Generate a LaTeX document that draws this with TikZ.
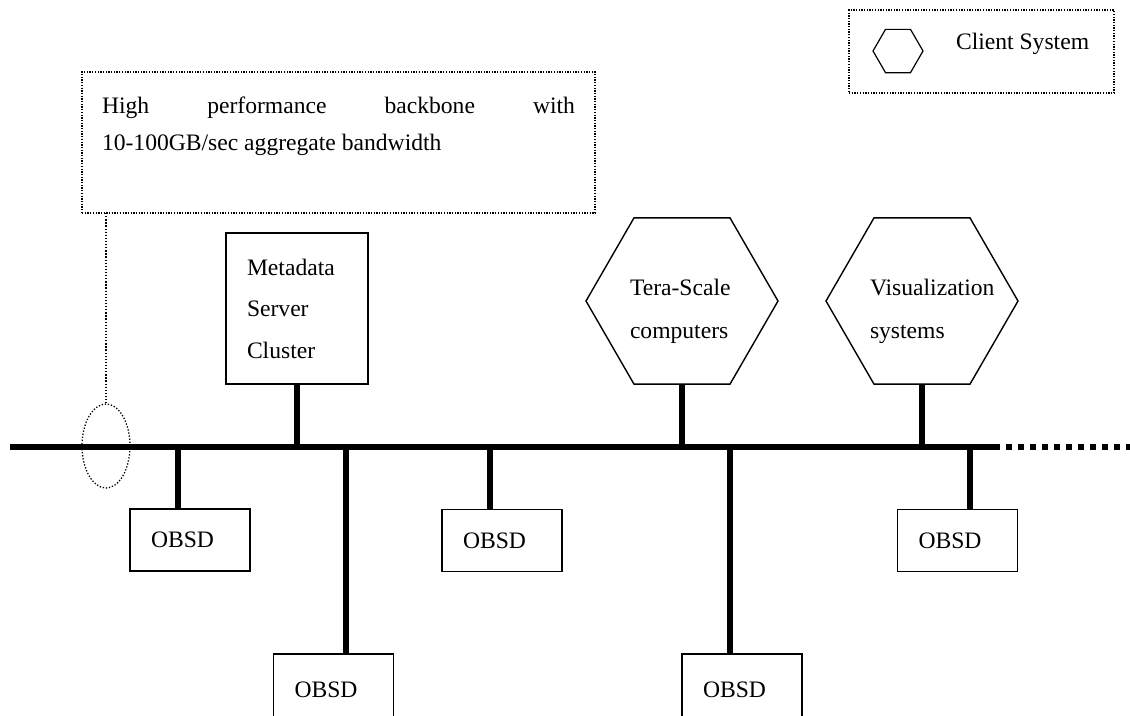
\documentclass[tikz,border=0pt]{standalone}
\usepackage{fontspec}
\setmainfont{Liberation Serif}
\usetikzlibrary{shapes.geometric}
\begin{document}
\begin{tikzpicture}[x=1pt,y=-1pt,
  every node/.style={font=\fontsize{23.6}{41.5}\selectfont, outer sep=0pt},
  plain/.style={inner sep=0pt},
  boxnode/.style={draw, line width=1.4pt, inner xsep=21pt, inner ysep=0pt, align=left, text width=#1},
  hexa/.style={draw, line width=1.4pt, shape=regular polygon, regular polygon sides=6, inner sep=0pt, minimum size=#1},
  dotbox/.style={draw, line width=1.3pt, dash pattern=on 1.3pt off 1.4pt, inner sep=0pt},
  dotline/.style={line width=1.3pt, dash pattern=on 1.3pt off 1.8pt},
  bus/.style={line width=6pt},
  stem/.style={line width=6pt},
  hextext/.style={inner sep=0pt, align=left, anchor=west, font=\fontsize{23.6}{43}\selectfont}
]
\path[use as bounding box, clip] (0,0) rectangle (1130,715);

% legend
\node[dotbox, minimum width=265pt, minimum height=83pt] (legend) at (981.5,51.5) {};
\node[hexa=50pt, line width=1.2pt] (leghex) at (898,51) {};
\node[plain, anchor=west] (legtext) at (956,44) {Client System};

% callout
\node[dotbox, minimum width=513pt, minimum height=141pt] (callout) at (338.5,142.5) {};
\node[plain, anchor=base west] (callA) at (102,113) {\makebox[473pt][s]{High performance backbone with}};
\node[plain, anchor=base west] (callB) at (102,150) {10-100GB/sec aggregate bandwidth};
\node[draw, shape=ellipse, dotline, inner sep=0pt, minimum width=48pt, minimum height=84pt] (ell) at (106,446) {};
\draw[dotline] (ell.north |- callout.south) -- (ell.north);

% bus
\coordinate (busL) at (10,447);
\coordinate (busR) at (1000,447);
\coordinate (busE) at (1130,447);
\draw[bus] (busL) -- (busR);
\draw[bus, dash pattern=on 6pt off 6pt, dash phase=6pt] (busR) -- (busE);

% upper nodes
\node[boxnode=100pt, minimum height=151pt] (meta) at (297,308.5) {Metadata\\Server\\Cluster};
\node[hexa=192pt] (tera) at (682,301) {};
\node[hextext] (terat) at (630,311.5) {Tera-Scale\\computers};
\node[hexa=192pt] (vis) at (922,301) {};
\node[hextext] (vist) at (870,311.5) {Visualization\\systems};

\draw[stem] (meta.south) -- (meta.south |- busL);
\draw[stem] (tera.south) -- (tera.south |- busL);
\draw[stem] (vis.south) -- (vis.south |- busL);

% OBSD boxes
\node[boxnode=78pt, minimum height=62pt] (ob1) at (190,540) {OBSD};
\node[boxnode=78pt, minimum height=72pt] (ob2) at (333.5,690) {OBSD};
\node[boxnode=78pt, minimum height=62pt] (ob3) at (502,540.5) {OBSD};
\node[boxnode=78pt, minimum height=72pt] (ob4) at (742,690) {OBSD};
\node[boxnode=78pt, minimum height=62pt] (ob5) at (957.5,540.5) {OBSD};

\draw[stem] ([xshift=-12pt]ob1.north) -- ([xshift=-12pt]ob1.north |- busL);
\draw[stem] ([xshift=12.5pt]ob2.north) -- ([xshift=12.5pt]ob2.north |- busL);
\draw[stem] ([xshift=-12pt]ob3.north) -- ([xshift=-12pt]ob3.north |- busL);
\draw[stem] ([xshift=-12pt]ob4.north) -- ([xshift=-12pt]ob4.north |- busL);
\draw[stem] ([xshift=12.5pt]ob5.north) -- ([xshift=12.5pt]ob5.north |- busL);
\end{tikzpicture}
\end{document}
